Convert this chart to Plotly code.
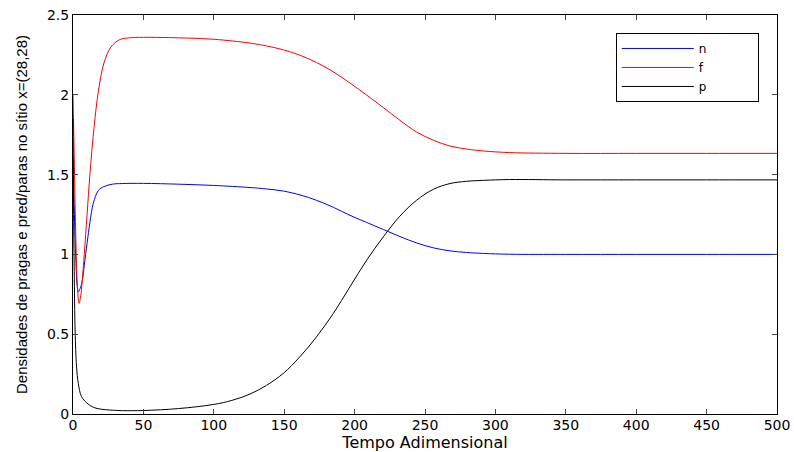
import plotly.graph_objects as go

# Dimensionless time samples and the three densities at site x=(28,28)
t_n = [0, 1, 2, 3, 3.8, 5, 6.5, 8, 10, 12, 14.4, 18, 22, 28, 35, 50, 75, 100, 125.7, 137.5,
       149.4, 161.2, 173, 184.9, 196.7, 208.6, 220.4, 232.2, 244, 256, 267.8, 279.6, 291.5,
       310, 350, 400, 450, 500]
n_vals = [1.6, 1.25, 0.97, 0.8, 0.765, 0.785, 0.83, 0.93, 1.07, 1.2, 1.32, 1.40, 1.425, 1.44,
          1.444, 1.445, 1.44, 1.432, 1.419, 1.410, 1.397, 1.373, 1.339, 1.295, 1.245, 1.200,
          1.156, 1.112, 1.072, 1.041, 1.022, 1.012, 1.006, 1.001, 1.0, 1.0, 1.0, 1.0]

t_f = [0, 1, 2, 3, 4.3, 5.5, 6.5, 8, 10, 12, 15, 18, 22, 27, 33, 40, 50, 75, 100, 125.7, 137.5,
       149.4, 161.2, 173, 184.9, 196.7, 208.6, 220.4, 232.2, 244, 256, 267.8, 279.6, 291.5,
       310, 350, 400, 450, 500]
f_vals = [2.0, 1.55, 1.1, 0.82, 0.693, 0.74, 0.83, 1.0, 1.25, 1.5, 1.8, 2.02, 2.2, 2.3, 2.345,
          2.357, 2.36, 2.357, 2.348, 2.324, 2.306, 2.282, 2.248, 2.202, 2.144, 2.074, 1.998,
          1.920, 1.84, 1.767, 1.715, 1.679, 1.660, 1.648, 1.638, 1.633, 1.633, 1.633, 1.633]

t_p = [0, 0.5, 1, 1.5, 2.5, 3.8, 6, 9.7, 14.4, 20, 26, 35, 50, 75, 100, 112.8, 125.7, 137.5,
       149.4, 161.2, 173, 184.9, 196.7, 208.6, 220.4, 232.2, 244, 256, 267.8, 279.6, 291.5,
       310, 350, 400, 450, 500]
p_vals = [1.85, 1.2, 0.8, 0.52, 0.3, 0.19, 0.11, 0.07, 0.042, 0.03, 0.025, 0.021, 0.022, 0.034,
          0.06, 0.085, 0.125, 0.18, 0.255, 0.359, 0.484, 0.63, 0.797, 0.964, 1.11, 1.24, 1.339,
          1.408, 1.444, 1.458, 1.464, 1.469, 1.467, 1.467, 1.467, 1.467]

x_ticks = [0, 50, 100, 150, 200, 250, 300, 350, 400, 450, 500]
y_ticks = [0, 0.5, 1, 1.5, 2, 2.5]
y_tick_text = ["0", "0.5", "1", "1.5", "2", "2.5"]

WIDE = "DejaVu Sans, Verdana, sans-serif"
NARROW = "Liberation Sans, Arial, sans-serif"
PAD = "\u00a0" * 12  # trailing space that widens the legend box

fig = go.Figure()
for t, v, name, color in [(t_n, n_vals, "n", "#0000ff"),
                          (t_f, f_vals, "f", "#ff0000"),
                          (t_p, p_vals, "p", "#000000")]:
    fig.add_trace(go.Scatter(x=t, y=v, name=name + PAD, mode="lines",
                             line=dict(color=color, width=1, shape="spline", smoothing=1.0)))

fig.update_layout(
    width=794, height=452,
    margin=dict(l=73, r=17, t=15, b=38),
    paper_bgcolor="white", plot_bgcolor="white",
    font=dict(family=WIDE, size=14, color="black"),
    showlegend=True,
    legend=dict(x=0.771, y=0.955, xanchor="left", yanchor="top",
                bgcolor="white", bordercolor="black", borderwidth=1,
                font=dict(family=WIDE, size=12), itemwidth=72,
                tracegroupgap=0),
)
fig.update_xaxes(range=[0, 500], tickvals=x_ticks, ticks="inside", ticklen=5,
                 tickfont=dict(family=WIDE, size=14), ticklabelstandoff=-2,
                 showline=True, linecolor="black", linewidth=1, mirror="ticks",
                 showgrid=False, zeroline=False, automargin=False,
                 title=dict(text="Tempo Adimensional", font=dict(family=WIDE, size=16),
                            standoff=0))
fig.update_yaxes(range=[0, 2.5], tickvals=y_ticks, ticktext=y_tick_text, ticks="inside",
                 ticklen=5, tickfont=dict(family=WIDE, size=14),
                 showline=True, linecolor="black", linewidth=1, mirror="ticks",
                 showgrid=False, zeroline=False, automargin=False,
                 title=dict(text="Densidades de pragas e pred/paras no sítio x=(28,28)",
                            font=dict(family=NARROW, size=15), standoff=15))

fig.write_html("out.html")
